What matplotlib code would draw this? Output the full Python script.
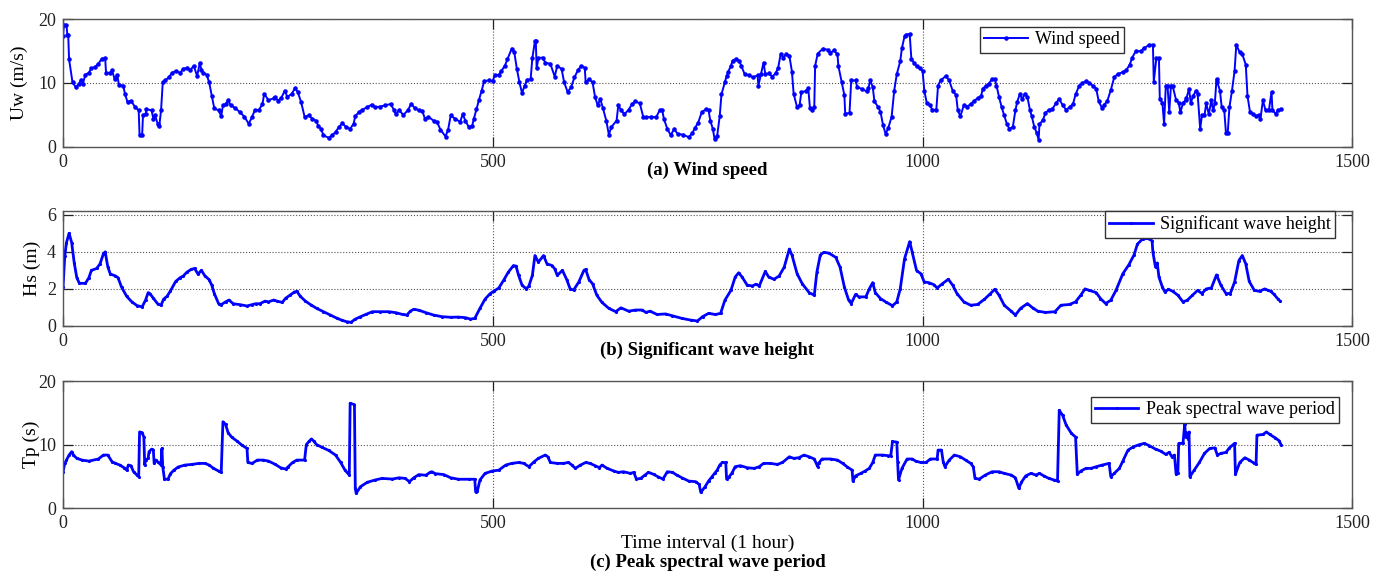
import matplotlib
matplotlib.use('Agg')
import matplotlib.pyplot as plt

plt.rcParams['font.family'] = ['Liberation Serif', 'DejaVu Serif']

# (hour, value) pairs
wind_speed = [
    (0, 17.3), (1, 19.1), (4, 19.1), (5, 17.5), (6, 17.5), (7, 13.7), (11, 10.1), (15, 9.3), (18, 9.8),
    (21, 10.5), (23, 9.9), (26, 11.3), (30, 11.6), (33, 12.3), (37, 12.5), (41, 13.0), (45, 13.8),
    (49, 13.9), (50, 11.6), (55, 11.6), (57, 12.0), (60, 10.6), (63, 11.3), (65, 9.7), (70, 9.6),
    (72, 8.3), (75, 7.0), (79, 7.2), (84, 6.2), (88, 5.7), (89, 1.8), (92, 1.8), (93, 5.0), (96, 5.1),
    (97, 5.9), (103, 5.7), (105, 4.4), (107, 5.0), (110, 3.6), (112, 3.3), (114, 5.7), (116, 10.1),
    (119, 10.4), (123, 10.9), (127, 11.6), (131, 11.9), (136, 11.6), (140, 12.2), (144, 12.4),
    (148, 12.0), (152, 12.7), (156, 11.1), (159, 13.1), (161, 12.1), (163, 11.6), (167, 11.3),
    (170, 10.1), (173, 8.0), (176, 6.0), (181, 5.7), (184, 4.8), (186, 6.5), (189, 6.7), (192, 7.3),
    (195, 6.5), (200, 6.1), (206, 5.4), (211, 4.7), (216, 3.6), (220, 4.7), (223, 5.7), (228, 5.8),
    (232, 6.7), (234, 8.3), (239, 7.3), (245, 7.6), (247, 7.8), (250, 7.2), (254, 7.7), (258, 8.8),
    (261, 7.8), (266, 8.3), (270, 9.2), (273, 8.6), (277, 7.0), (281, 4.7), (286, 4.9), (290, 4.4),
    (294, 4.1), (297, 3.3), (300, 2.8), (303, 1.8), (309, 1.4), (313, 1.8), (317, 2.3), (321, 3.1),
    (325, 3.7), (329, 3.1), (334, 2.8), (338, 3.6), (340, 4.8), (344, 5.4), (348, 5.8), (354, 6.2),
    (359, 6.6), (363, 6.2), (369, 6.3), (375, 6.5), (381, 6.7), (385, 5.8), (387, 5.1), (391, 5.7),
    (396, 5.0), (401, 5.7), (405, 6.7), (409, 6.1), (414, 5.7), (418, 5.6), (421, 4.4), (425, 4.7),
    (431, 4.1), (435, 3.9), (439, 2.7), (445, 1.6), (448, 2.7), (451, 4.9), (456, 4.4), (462, 3.9),
    (465, 5.1), (468, 4.1), (472, 3.1), (476, 3.3), (478, 4.4), (481, 5.9), (484, 7.4), (487, 8.8),
    (490, 10.3), (495, 10.4), (500, 10.3), (502, 11.2), (507, 11.3), (510, 11.9), (514, 12.7),
    (517, 13.7), (522, 15.4), (525, 14.8), (528, 12.2), (531, 10.1), (534, 8.4), (537, 9.6),
    (540, 10.5), (544, 10.6), (546, 13.9), (549, 16.6), (550, 16.6), (551, 12.3), (553, 13.9),
    (558, 14.0), (561, 13.2), (567, 13.0), (572, 11.0), (575, 12.7), (580, 12.2), (583, 10.1),
    (587, 8.6), (591, 9.3), (595, 10.9), (599, 12.0), (603, 12.7), (607, 12.4), (608, 10.1),
    (612, 10.6), (616, 10.1), (619, 7.8), (622, 6.5), (625, 7.5), (628, 6.1), (632, 4.1), (635, 1.9),
    (638, 3.1), (644, 4.1), (646, 6.5), (649, 5.8), (653, 5.1), (658, 5.8), (662, 6.7), (666, 7.1),
    (671, 6.8), (675, 4.7), (678, 4.6), (684, 4.7), (690, 4.6), (694, 5.7), (697, 5.8), (699, 4.4),
    (703, 2.8), (707, 1.8), (711, 2.8), (715, 2.0), (721, 1.9), (728, 1.5), (732, 2.1), (735, 2.9),
    (739, 3.8), (743, 5.4), (748, 5.9), (751, 5.7), (753, 4.1), (756, 2.8), (758, 1.2), (761, 1.7),
    (764, 4.8), (766, 8.2), (770, 10.1), (772, 11.1), (774, 11.8), (777, 12.7), (779, 13.5),
    (783, 13.8), (787, 13.4), (789, 12.7), (793, 11.4), (798, 11.2), (803, 10.9), (808, 11.2),
    (809, 9.6), (812, 11.4), (815, 13.2), (817, 11.4), (821, 11.5), (825, 11.0), (829, 11.5),
    (832, 12.4), (835, 14.6), (838, 14.0), (841, 14.5), (845, 14.3), (848, 11.8), (850, 8.3),
    (854, 6.2), (857, 6.6), (859, 8.6), (864, 8.7), (867, 9.2), (869, 6.0), (871, 5.8), (874, 6.3),
    (875, 12.7), (878, 14.6), (884, 15.4), (890, 15.2), (892, 14.7), (897, 15.1), (901, 14.5),
    (902, 12.7), (906, 10.1), (909, 8.1), (910, 5.2), (915, 5.3), (917, 10.4), (922, 10.4),
    (924, 9.4), (930, 9.0), (935, 8.7), (937, 9.2), (939, 10.4), (942, 9.4), (944, 7.1), (948, 6.3),
    (951, 5.5), (954, 3.4), (957, 2.0), (960, 2.9), (964, 4.7), (967, 8.8), (970, 11.4), (974, 13.4),
    (976, 15.5), (979, 17.3), (981, 17.6), (985, 17.7), (987, 13.7), (990, 13.2), (993, 12.6),
    (997, 12.3), (1000, 11.9), (1002, 8.8), (1005, 6.8), (1009, 6.5), (1011, 5.8), (1016, 5.8),
    (1018, 9.6), (1021, 10.4), (1027, 11.1), (1031, 10.4), (1035, 8.8), (1039, 8.1), (1041, 5.7),
    (1044, 4.8), (1048, 6.5), (1052, 6.3), (1056, 6.7), (1060, 7.2), (1065, 7.7), (1068, 7.9),
    (1070, 9.1), (1074, 9.6), (1077, 9.9), (1081, 10.6), (1084, 10.6), (1086, 9.6), (1089, 7.8),
    (1092, 6.2), (1095, 4.9), (1098, 3.6), (1101, 2.8), (1105, 3.1), (1108, 5.7), (1110, 7.0),
    (1113, 8.2), (1116, 7.5), (1119, 8.3), (1122, 7.8), (1125, 5.7), (1127, 4.8), (1130, 3.1),
    (1133, 2.1), (1135, 1.1), (1136, 3.5), (1140, 4.2), (1143, 5.3), (1147, 5.8), (1151, 5.9),
    (1155, 6.8), (1159, 7.5), (1163, 6.5), (1167, 5.8), (1171, 6.2), (1175, 6.7), (1178, 8.2),
    (1182, 9.5), (1186, 10.0), (1190, 10.3), (1194, 10.0), (1198, 9.6), (1202, 9.1), (1205, 7.1),
    (1209, 6.0), (1211, 6.5), (1215, 7.2), (1219, 8.9), (1223, 10.9), (1227, 11.4), (1233, 11.7),
    (1237, 12.0), (1241, 12.9), (1244, 14.0), (1248, 15.0), (1254, 15.0), (1258, 15.5), (1264, 16.0),
    (1268, 16.0), (1269, 10.2), (1272, 13.9), (1275, 13.9), (1276, 7.5), (1279, 6.9), (1281, 3.6),
    (1283, 9.6), (1285, 9.6), (1287, 5.4), (1289, 9.6), (1291, 9.5), (1295, 7.3), (1298, 6.9),
    (1300, 5.4), (1303, 6.9), (1306, 7.3), (1307, 7.6), (1310, 9.1), (1312, 6.9), (1315, 8.0),
    (1318, 8.8), (1320, 8.3), (1323, 2.8), (1325, 4.9), (1328, 4.9), (1330, 6.8), (1333, 5.1),
    (1336, 7.3), (1338, 5.7), (1340, 6.8), (1342, 10.6), (1343, 10.1), (1346, 8.8), (1348, 6.2),
    (1351, 5.7), (1353, 2.1), (1355, 2.1), (1357, 6.2), (1360, 8.8), (1363, 11.9), (1365, 16.0),
    (1369, 14.8), (1372, 14.5), (1376, 12.9), (1378, 8.0), (1381, 5.4), (1385, 5.1), (1388, 4.8),
    (1391, 5.0), (1393, 4.3), (1396, 7.3), (1399, 5.7), (1403, 5.8), (1406, 8.6), (1407, 5.8),
    (1411, 5.1), (1413, 5.7), (1417, 5.9),
]

wave_height = [
    (0, 2.1), (2, 3.8), (4, 4.5), (7, 5.0), (10, 4.5), (13, 3.4), (16, 2.6), (19, 2.3), (26, 2.3),
    (30, 2.6), (33, 3.0), (39, 3.1), (43, 3.35), (47, 3.9), (49, 4.0), (52, 3.2), (55, 2.8), (61, 2.7),
    (64, 2.6), (68, 2.1), (74, 1.6), (80, 1.3), (86, 1.1), (92, 1.03), (96, 1.4), (99, 1.8), (101, 1.75),
    (105, 1.5), (110, 1.2), (114, 1.12), (117, 1.45), (121, 1.6), (125, 1.9), (131, 2.4), (136, 2.6),
    (140, 2.7), (144, 2.9), (149, 3.05), (153, 3.1), (157, 2.8), (161, 3.0), (165, 2.7), (170, 2.5),
    (173, 2.2), (176, 1.75), (181, 1.2), (184, 1.15), (189, 1.3), (193, 1.4), (198, 1.2), (206, 1.15),
    (214, 1.08), (220, 1.15), (224, 1.2), (229, 1.2), (235, 1.34), (239, 1.3), (245, 1.4), (249, 1.34),
    (255, 1.27), (259, 1.5), (264, 1.66), (269, 1.83), (272, 1.87), (276, 1.6), (282, 1.34), (288, 1.15),
    (295, 0.95), (303, 0.77), (311, 0.59), (319, 0.41), (325, 0.3), (330, 0.23), (335, 0.2), (340, 0.37),
    (346, 0.5), (352, 0.62), (360, 0.77), (369, 0.77), (379, 0.77), (387, 0.72), (395, 0.62),
    (400, 0.59), (404, 0.8), (408, 0.9), (414, 0.85), (422, 0.72), (431, 0.59), (441, 0.5), (451, 0.47),
    (460, 0.48), (468, 0.45), (474, 0.37), (479, 0.41), (485, 0.95), (491, 1.45), (497, 1.75),
    (501, 1.87), (507, 2.05), (513, 2.5), (518, 2.9), (524, 3.26), (527, 3.23), (530, 2.73), (534, 2.2),
    (539, 2.0), (542, 2.16), (546, 2.73), (549, 3.8), (553, 3.44), (559, 3.8), (563, 3.35), (569, 3.26),
    (572, 3.08), (575, 2.73), (581, 3.0), (586, 2.5), (590, 2.0), (594, 1.94), (600, 2.37), (606, 3.0),
    (608, 3.05), (612, 2.5), (616, 2.28), (621, 1.66), (627, 1.27), (635, 0.95), (643, 0.77), (649, 0.98),
    (658, 0.8), (666, 0.86), (674, 0.86), (678, 0.73), (683, 0.8), (691, 0.62), (701, 0.65), (709, 0.55),
    (720, 0.41), (730, 0.32), (738, 0.27), (744, 0.5), (751, 0.68), (759, 0.62), (765, 0.68), (770, 1.39),
    (777, 1.92), (782, 2.64), (786, 2.87), (790, 2.64), (796, 2.2), (802, 2.16), (806, 2.25), (810, 2.16),
    (817, 2.94), (821, 2.64), (827, 2.52), (833, 2.69), (839, 3.17), (845, 4.15), (848, 3.83), (854, 2.82),
    (860, 2.28), (868, 1.8), (874, 1.66), (877, 2.9), (881, 3.83), (885, 3.97), (891, 3.93), (899, 3.7),
    (904, 3.17), (909, 2.1), (914, 1.39), (917, 1.21), (922, 1.7), (926, 1.57), (934, 1.57), (938, 2.0),
    (942, 2.34), (945, 1.8), (951, 1.48), (957, 1.3), (965, 1.09), (970, 1.3), (974, 2.0), (979, 3.62),
    (985, 4.55), (988, 3.97), (993, 2.99), (998, 2.82), (1002, 2.37), (1007, 2.34), (1013, 2.23),
    (1017, 2.05), (1023, 2.28), (1030, 2.52), (1035, 2.2), (1040, 1.75), (1048, 1.3), (1056, 1.12),
    (1064, 1.16), (1072, 1.44), (1079, 1.75), (1084, 1.98), (1089, 1.66), (1095, 1.12), (1103, 0.8),
    (1108, 0.59), (1114, 0.95), (1122, 1.21), (1128, 0.98), (1134, 0.8), (1143, 0.73), (1154, 0.77),
    (1161, 1.12), (1171, 1.16), (1178, 1.3), (1184, 1.66), (1189, 2.0), (1194, 1.92), (1202, 1.8),
    (1207, 1.48), (1213, 1.21), (1219, 1.39), (1225, 1.92), (1233, 2.82), (1240, 3.3), (1246, 3.83),
    (1250, 4.42), (1256, 4.69), (1262, 4.72), (1267, 4.6), (1268, 3.97), (1271, 3.17), (1273, 3.4),
    (1275, 2.64), (1279, 2.1), (1282, 1.83), (1286, 1.98), (1291, 1.87), (1297, 1.66), (1303, 1.3),
    (1308, 1.39), (1314, 1.66), (1320, 1.92), (1325, 1.75), (1330, 2.0), (1336, 2.05), (1342, 2.76),
    (1347, 2.2), (1353, 1.75), (1358, 1.75), (1363, 2.37), (1368, 3.53), (1372, 3.8), (1376, 3.35),
    (1380, 2.41), (1386, 1.92), (1392, 1.87), (1398, 2.0), (1402, 1.92), (1405, 1.87), (1409, 1.7),
    (1413, 1.48), (1416, 1.34),
]

wave_period = [
    (0, 5.75), (2, 7.06), (4, 7.58), (7, 8.37), (10, 8.9), (12, 8.37), (16, 7.85), (22, 7.58), (30, 7.42),
    (41, 7.75), (47, 8.37), (52, 8.37), (57, 7.32), (61, 7.06), (66, 6.8), (71, 6.38), (74, 6.0),
    (76, 6.8), (79, 6.7), (82, 5.75), (86, 5.23), (88, 4.97), (89, 12.0), (92, 11.9), (94, 11.2),
    (95, 6.8), (96, 7.58), (99, 7.85), (100, 8.9), (103, 9.3), (105, 9.15), (106, 7.06), (108, 7.58),
    (111, 7.2), (114, 6.8), (115, 9.4), (116, 6.5), (118, 4.57), (122, 4.57), (125, 5.45), (129, 6.0),
    (134, 6.5), (142, 6.8), (150, 6.9), (158, 7.06), (165, 7.06), (170, 6.8), (175, 6.28), (181, 5.85),
    (184, 5.65), (186, 13.6), (189, 13.2), (192, 11.9), (196, 11.2), (202, 10.6), (208, 9.94),
    (214, 9.4), (215, 7.2), (220, 7.06), (226, 7.58), (233, 7.58), (239, 7.42), (247, 6.9), (253, 6.38),
    (259, 6.17), (262, 6.54), (267, 7.2), (272, 7.58), (281, 7.58), (283, 10.0), (286, 10.5),
    (289, 10.9), (292, 10.5), (295, 10.0), (301, 9.6), (309, 9.1), (317, 8.37), (323, 7.2), (328, 6.0),
    (333, 5.23), (334, 16.5), (339, 16.3), (340, 3.14), (341, 2.36), (346, 3.4), (354, 4.1), (363, 4.45),
    (371, 4.7), (383, 4.6), (391, 4.8), (398, 4.7), (403, 4.19), (408, 4.8), (414, 5.3), (422, 5.2),
    (427, 5.65), (429, 5.75), (433, 5.45), (443, 5.3), (451, 4.8), (460, 4.57), (472, 4.57), (479, 4.57),
    (480, 2.58), (482, 2.7), (485, 4.45), (491, 5.49), (499, 5.85), (507, 6.0), (515, 6.8), (522, 7.06),
    (530, 7.2), (536, 7.06), (542, 6.54), (548, 7.32), (553, 7.85), (561, 8.37), (564, 8.1), (567, 7.2),
    (575, 7.06), (582, 7.06), (588, 7.2), (592, 6.8), (596, 6.28), (602, 6.8), (608, 7.2), (613, 7.06),
    (619, 6.7), (624, 6.38), (627, 6.8), (633, 6.28), (641, 5.85), (646, 5.65), (652, 5.75), (660, 5.49),
    (664, 5.65), (667, 4.6), (672, 4.7), (677, 5.23), (681, 5.65), (687, 5.35), (692, 4.97), (698, 4.6),
    (703, 5.75), (709, 5.65), (714, 5.23), (720, 4.8), (728, 4.28), (736, 4.19), (740, 3.77), (742, 2.5),
    (747, 3.4), (751, 4.28), (755, 4.97), (758, 5.49), (761, 6.0), (764, 6.8), (767, 7.2), (771, 7.2),
    (772, 4.6), (775, 4.97), (778, 5.49), (782, 6.54), (788, 6.7), (796, 6.38), (804, 6.28), (810, 6.54),
    (815, 7.06), (823, 7.06), (831, 6.9), (837, 7.2), (845, 8.1), (850, 7.85), (856, 7.95), (862, 8.37),
    (868, 8.1), (874, 7.75), (878, 6.54), (879, 7.06), (883, 7.75), (893, 7.75), (901, 7.58), (907, 7.06),
    (912, 6.54), (918, 6.0), (919, 4.28), (922, 5.1), (928, 5.49), (933, 5.85), (938, 6.28), (942, 7.2),
    (945, 8.37), (953, 8.37), (960, 8.27), (963, 8.27), (965, 10.5), (970, 10.4), (971, 7.2), (972, 4.45),
    (976, 6.28), (982, 7.75), (988, 7.75), (992, 7.42), (998, 7.2), (1004, 7.2), (1009, 7.75),
    (1017, 7.75), (1018, 9.15), (1022, 9.15), (1024, 7.32), (1026, 6.54), (1031, 7.58), (1037, 8.37),
    (1044, 8.1), (1050, 7.58), (1056, 7.06), (1059, 6.54), (1061, 4.7), (1066, 4.6), (1073, 5.23),
    (1081, 5.75), (1089, 5.75), (1095, 5.49), (1103, 5.23), (1108, 4.8), (1112, 3.14), (1115, 4.1),
    (1120, 5.1), (1126, 5.49), (1132, 5.23), (1136, 5.49), (1141, 5.1), (1147, 4.7), (1153, 4.45),
    (1157, 4.28), (1159, 15.4), (1163, 14.6), (1167, 13.1), (1173, 11.8), (1178, 11.2), (1180, 5.35),
    (1184, 5.85), (1190, 6.28), (1196, 6.28), (1202, 6.54), (1209, 6.8), (1217, 7.06), (1219, 4.97),
    (1223, 5.49), (1229, 6.28), (1233, 7.42), (1239, 9.15), (1245, 9.65), (1252, 10.0), (1258, 10.2),
    (1264, 9.83), (1271, 9.3), (1277, 8.99), (1283, 8.47), (1287, 8.8), (1290, 8.1), (1293, 8.37),
    (1295, 5.35), (1297, 5.49), (1298, 10.2), (1303, 10.2), (1305, 13.3), (1306, 11.2), (1307, 11.9),
    (1309, 10.9), (1310, 12.0), (1311, 4.97), (1316, 6.0), (1322, 7.2), (1328, 8.63), (1334, 9.4),
    (1340, 9.5), (1343, 8.37), (1347, 8.63), (1353, 8.8), (1357, 9.5), (1363, 10.2), (1364, 5.35),
    (1369, 7.2), (1375, 7.95), (1380, 7.58), (1386, 7.06), (1388, 6.9), (1389, 11.5), (1396, 11.6),
    (1400, 12.0), (1404, 11.6), (1410, 11.1), (1415, 10.6), (1417, 10.0),
]

x_ticks = [0, 500, 1000, 1500]
panels = [
    # data, legend text, y label, y ticks, y max, panel caption
    (wind_speed, 'Wind speed', 'Uw (m/s)', [0, 10, 20], 20, '(a) Wind speed'),
    (wave_height, 'Significant wave height', 'Hs (m)', [0, 2, 4, 6], 6.2, '(b) Significant wave height'),
    (wave_period, 'Peak spectral wave period', 'Tp (s)', [0, 10, 20], 20, '(c) Peak spectral wave period'),
]

fig = plt.figure(figsize=(13.89, 5.72), dpi=100)

boxes = [[0.0454, 0.7435, 0.9282, 0.2228],
         [0.0454, 0.4301, 0.9282, 0.2010],
         [0.0454, 0.1113, 0.9282, 0.2226]]
legend_pos = [(0.711, 0.94), (0.808, 1.0), (0.797, 0.877)]
ylabel_x = [-0.027, -0.017, -0.018]
caption_y = [0.703, 0.388, 0.0175]

for i, (data, name, ylab, yt, ymax, caption) in enumerate(panels):
    ax = fig.add_axes(boxes[i])
    hours = [p[0] for p in data]
    vals = [p[1] for p in data]
    if i == 0:
        ax.plot(hours, vals, color='#0000ff', lw=1.4, marker='.', ms=4.5, label=name)
    else:
        ax.plot(hours, vals, color='#0000ff', lw=2.0, marker='.', ms=2.5, label=name)

    ax.set_xlim(0, 1500)
    ax.set_ylim(0, ymax)
    ax.set_xticks(x_ticks)
    ax.set_yticks(yt)
    ax.tick_params(direction='in', length=7, width=0.9, top=True, right=True,
                   labelsize=13, colors='#222222', pad=5)
    ax.grid(True, linestyle=':', color='#555555', linewidth=0.8)
    for sp in ax.spines.values():
        sp.set_color('#555555')
        sp.set_linewidth(1.0)

    ax.set_ylabel(ylab, fontsize=14)
    ax.yaxis.set_label_coords(ylabel_x[i], 0.5)

    leg = ax.legend(loc='upper left', bbox_to_anchor=legend_pos[i], fontsize=13,
                    fancybox=False, framealpha=1, edgecolor='#333333',
                    handlelength=2.4, handletextpad=0.4, borderpad=0.25,
                    borderaxespad=0)
    leg.get_frame().set_linewidth(1.0)

    fig.text(0.5094, caption_y[i], caption, ha='center', va='center',
             fontsize=13.5, fontweight='bold')

fig.text(0.5094, 0.0507, 'Time interval (1 hour)', ha='center', va='center', fontsize=14)

fig.savefig('out.png', dpi=100)
